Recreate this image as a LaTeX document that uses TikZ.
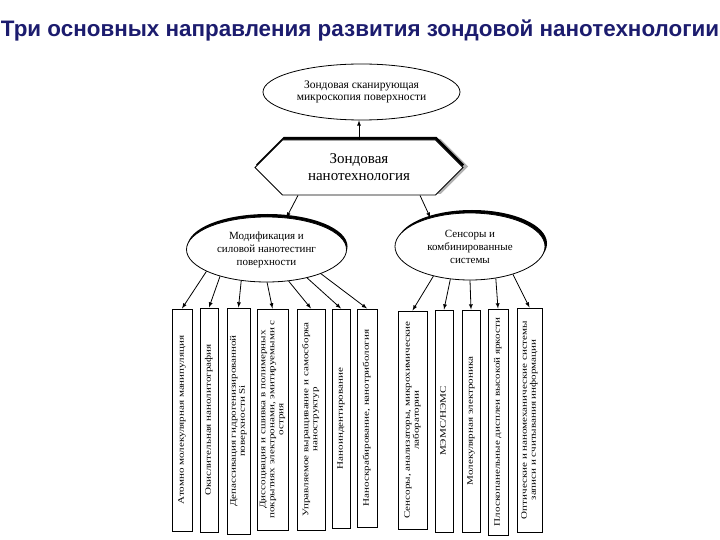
\documentclass[tikz,border=0pt]{standalone}
\usepackage{fontspec}
\setmainfont{Liberation Serif}
\newfontfamily\titlefont{Liberation Sans}
\usepackage{graphicx}
\usepackage{xcolor}
\usetikzlibrary{shapes,arrows,calc,shadows}
\definecolor{titleblue}{RGB}{28,28,110}
\newcommand{\vtext}[1]{\scalebox{1.3}[1]{\begin{tabular}{@{}c@{}}#1\end{tabular}}}
\tikzset{
  leaf/.style={draw, line width=1pt, rotate=90, inner sep=1pt, fill=white,
    font=\fontsize{8.5}{9}\selectfont},
  branch/.style={draw, ellipse, fill=white, line width=0.8pt, inner sep=0pt,
    align=center, font=\fontsize{11}{13}\selectfont},
  link/.style={-latex, line width=0.8pt},
}

\begin{document}
\begin{tikzpicture}[x=1pt,y=1pt]
\useasboundingbox (0,0) rectangle (720,-540);

% Title
\node[text=titleblue, font=\titlefont\bfseries\fontsize{22.4}{26}\selectfont] (title) at (360,-30)
  {Три основных направления развития зондовой нанотехнологии};

% Top of the tree
\node[draw, ellipse, line width=0.8pt, inner sep=0pt, minimum width=197, minimum height=56,
  align=center, font=\fontsize{11.5}{12.5}\selectfont] (scm) at (361.5,-92)
  {Зондовая сканирующая\\микроскопия поверхности};

\node[draw, signal, signal to=east and west, signal pointer angle=90, fill=white,
  line width=0.8pt, minimum width=208, minimum height=55, inner sep=0pt, align=center,
  font=\fontsize{15}{17}\selectfont,
  drop shadow={shadow xshift=5pt, shadow yshift=1pt, fill=gray!60, opacity=1},
  drop shadow={shadow xshift=1pt, shadow yshift=3pt, fill=black, opacity=1}] (hex) at (359,-167.5)
  {Зондовая\\нанотехнология};

% Two branches
\node[branch, minimum width=160, minimum height=65,
  drop shadow={shadow xshift=1pt, shadow yshift=3pt, fill=black, opacity=1}] (mod) at (266.5,-249.5)
  {Модификация и\\силовой нанотестинг\\поверхности};
\node[branch, minimum width=150, minimum height=67,
  drop shadow={shadow xshift=2pt, shadow yshift=3pt, fill=black, opacity=1}] (sens) at (470,-246.5)
  {Сенсоры и\\комбинированные\\системы};

% Left leaves
\node[leaf, minimum width=222, minimum height=20] (m1) at (182,-420)
  {\vtext{Атомно молекулярная манипуляция}};
\node[leaf, minimum width=224, minimum height=18] (m2) at (209,-420)
  {\vtext{Окислительная нанолитография}};
\node[leaf, minimum width=226, minimum height=23] (m3) at (238.5,-421)
  {\vtext{Депассивация гидрогенизированной\\поверхности Si}};
\node[leaf, minimum width=221, minimum height=31] (m4) at (272.5,-419.5)
  {\vtext{Диссоциация и сшивка в полимерных\\покрытиях электронами, эмитируемыми с\\острия}};
\node[leaf, minimum width=221, minimum height=28] (m5) at (311,-419.5)
  {\vtext{Управляемое выращивание и самосборка\\наноструктур}};
\node[leaf, minimum width=219, minimum height=18] (m6) at (341,-418.5)
  {\vtext{Наноиндентирование}};
\node[leaf, minimum width=218, minimum height=20] (m7) at (367,-418)
  {\vtext{Наноскрабирование, нанотрибология}};

% Right leaves
\node[leaf, minimum width=218, minimum height=29] (s1) at (412.5,-420)
  {\vtext{Сенсоры, анализаторы, микрохимические\\лаборатории}};
\node[leaf, minimum width=222, minimum height=18] (s2) at (444,-421)
  {\vtext{МЭМС/НЭМС}};
\node[leaf, minimum width=222, minimum height=18] (s3) at (471,-421)
  {\vtext{Молекулярная электроника}};
\node[leaf, minimum width=226, minimum height=20] (s4) at (498,-422)
  {\vtext{Плоскопанельные дисплеи высокой яркости}};
\node[leaf, minimum width=224, minimum height=25] (s5) at (529.5,-420)
  {\vtext{Оптические и наномеханические системы\\записи и считывания информации}};

% Connectors
\draw[link] (hex.north) -- (hex.north |- scm.south);
\draw[link] ($(hex.south)+(-61,0)$) -- (mod.58);
\draw[link] ($(hex.south)+(61,0)$) -- (sens.144);

\draw[link] (mod.-160) -- (m1.east);
\draw[link] (mod.-150) -- (m2.east);
\draw[link] (mod.-129) -- (m3.east);
\draw[link] (mod.-89) -- (m4.east);
\draw[link] (mod.-55) -- (m5.east);
\draw[link] (mod.-35) -- (m6.east);
\draw[link] (mod.-24) -- (m7.east);

\draw[link] (sens.-141) -- (s1.east);
\draw[link] (sens.-121) -- (s2.east);
\draw[link] (sens.-90) -- (s3.east);
\draw[link] (sens.-51) -- (s4.east);
\draw[link] (sens.-33) -- (s5.east);
\end{tikzpicture}
\end{document}
